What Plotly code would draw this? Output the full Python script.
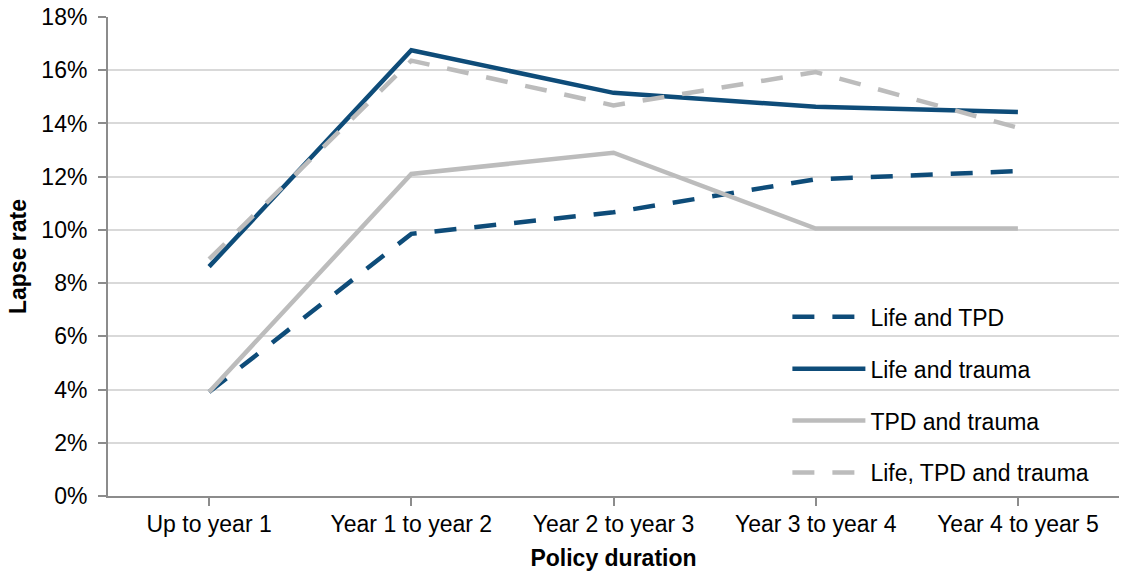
import plotly.graph_objects as go

categories = ["Up to year 1", "Year 1 to year 2", "Year 2 to year 3", "Year 3 to year 4", "Year 4 to year 5"]
life_tpd = [0.0391, 0.0985, 0.1066, 0.1190, 0.1221]
life_trauma = [0.0862, 0.1675, 0.1515, 0.1463, 0.1443]
tpd_trauma = [0.0391, 0.1210, 0.1290, 0.1005, 0.1005]
life_tpd_trauma = [0.0890, 0.1636, 0.1468, 0.1593, 0.1384]
y_ticks = [0, 0.02, 0.04, 0.06, 0.08, 0.10, 0.12, 0.14, 0.16, 0.18]

DARK = "#0E4C79"
GREY = "#BCBCBC"
FONT = "Liberation Sans, Arial, sans-serif"
FS = 23

series = [
    ("Life and TPD", life_tpd, DARK, "22px,18px"),
    ("Life and trauma", life_trauma, DARK, "solid"),
    ("TPD and trauma", tpd_trauma, GREY, "solid"),
    ("Life, TPD and trauma", life_tpd_trauma, GREY, "22px,18px"),
]

fig = go.Figure()
for i, (name, vals, col, dash) in enumerate(series):
    fig.add_trace(go.Scatter(
        x=categories, y=vals, name=name, mode="lines",
        line=dict(color=col, width=4.5, dash=dash),
        legendgroup=f"g{i}",
    ))

fig.update_layout(
    width=1121, height=577,
    margin=dict(l=108, r=2, t=17, b=81, autoexpand=False),
    paper_bgcolor="white", plot_bgcolor="white",
    font=dict(family=FONT, size=FS, color="#000000"),
    showlegend=True,
    legend=dict(
        x=0.672, y=0.419, xanchor="left", yanchor="top",
        bgcolor="rgba(0,0,0,0)", borderwidth=0,
        font=dict(family=FONT, size=FS, color="#000000"),
        tracegroupgap=19, itemwidth=73,
    ),
    xaxis=dict(
        type="category", range=[-0.5, 4.5],
        showline=True, linecolor="#8C8C8C", linewidth=2,
        ticks="outside", ticklen=8, tickcolor="#8C8C8C", tickwidth=2,
        ticklabelstandoff=-2,
        showgrid=False,
        tickfont=dict(family=FONT, size=FS),
        title=dict(text="<b>Policy duration</b>", font=dict(family=FONT, size=FS), standoff=14),
    ),
    yaxis=dict(
        range=[0, 0.18], tickvals=y_ticks, tickformat=".0%",
        showline=True, linecolor="#8C8C8C", linewidth=2,
        ticks="outside", ticklen=8, tickcolor="#8C8C8C", tickwidth=2,
        ticklabelstandoff=6,
        showgrid=True, gridcolor="#D9D9D9", gridwidth=1.5,
        zeroline=False,
        tickfont=dict(family=FONT, size=FS),
        title=dict(text="<b>Lapse rate</b>", font=dict(family=FONT, size=FS), standoff=8),
    ),
)

fig.write_html(
    "out.html",
    config={"displayModeBar": False},
    post_script="document.body.style.margin='0';document.body.style.overflow='hidden';",
)
